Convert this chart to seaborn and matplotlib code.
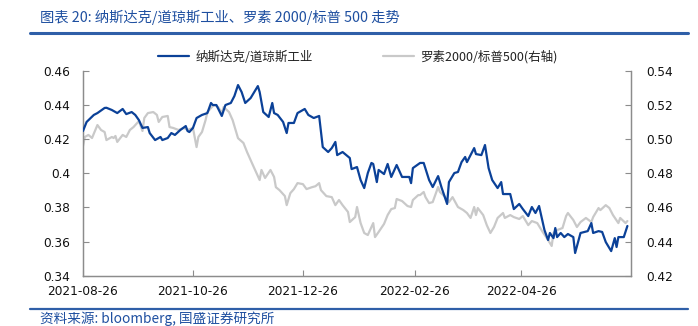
import matplotlib
matplotlib.use("Agg")
import matplotlib.pyplot as plt
from matplotlib.lines import Line2D
import pandas as pd
import seaborn as sns

# ---------------- data ----------------
nasdaq_dates = [
    "2021-08-26", "2021-08-28", "2021-09-01", "2021-09-03", "2021-09-07", "2021-09-08",
    "2021-09-11", "2021-09-14", "2021-09-17", "2021-09-19", "2021-09-22", "2021-09-24",
    "2021-09-26", "2021-09-28", "2021-10-01", "2021-10-02", "2021-10-05", "2021-10-08",
    "2021-10-09", "2021-10-12", "2021-10-14", "2021-10-16", "2021-10-19", "2021-10-22",
    "2021-10-23", "2021-10-24", "2021-10-26", "2021-10-28", "2021-10-31", "2021-11-03",
    "2021-11-05", "2021-11-06", "2021-11-08", "2021-11-11", "2021-11-13", "2021-11-16",
    "2021-11-18", "2021-11-20", "2021-11-22", "2021-11-24", "2021-11-27", "2021-12-01",
    "2021-12-02", "2021-12-04", "2021-12-07", "2021-12-09", "2021-12-10", "2021-12-12",
    "2021-12-15", "2021-12-17", "2021-12-18", "2021-12-21", "2021-12-23", "2021-12-27",
    "2021-12-29", "2022-01-01", "2022-01-04", "2022-01-06", "2022-01-09", "2022-01-11",
    "2022-01-13", "2022-01-14", "2022-01-17", "2022-01-21", "2022-01-22", "2022-01-25",
    "2022-01-27", "2022-01-29", "2022-01-31", "2022-02-02", "2022-02-03", "2022-02-05",
    "2022-02-06", "2022-02-09", "2022-02-11", "2022-02-13", "2022-02-16", "2022-02-19",
    "2022-02-23", "2022-02-24", "2022-02-25", "2022-03-01", "2022-03-03", "2022-03-06",
    "2022-03-08", "2022-03-11", "2022-03-13", "2022-03-16", "2022-03-17", "2022-03-20",
    "2022-03-22", "2022-03-24", "2022-03-26", "2022-03-27", "2022-03-31", "2022-04-01",
    "2022-04-04", "2022-04-06", "2022-04-08", "2022-04-10", "2022-04-13", "2022-04-15",
    "2022-04-16", "2022-04-20", "2022-04-22", "2022-04-25", "2022-04-27", "2022-04-30",
    "2022-05-02", "2022-05-04", "2022-05-06", "2022-05-09", "2022-05-11", "2022-05-12",
    "2022-05-14", "2022-05-15", "2022-05-16", "2022-05-18", "2022-05-20", "2022-05-22",
    "2022-05-25", "2022-05-26", "2022-05-29", "2022-06-02", "2022-06-04", "2022-06-05",
    "2022-06-08", "2022-06-10", "2022-06-12", "2022-06-15", "2022-06-17", "2022-06-18",
    "2022-06-19", "2022-06-22", "2022-06-24",
]
nasdaq_dow = [
    0.4247, 0.4300, 0.4341, 0.4352, 0.4382, 0.4383,
    0.4370, 0.4352, 0.4376, 0.4346, 0.4358, 0.4341,
    0.4311, 0.4265, 0.4270, 0.4235, 0.4194, 0.4212,
    0.4194, 0.4206, 0.4235, 0.4224, 0.4253, 0.4276,
    0.4247, 0.4241, 0.4265, 0.4323, 0.4341, 0.4352,
    0.4411, 0.4399, 0.4399, 0.4335, 0.4399, 0.4411,
    0.4452, 0.4516, 0.4475, 0.4411, 0.4440, 0.4510,
    0.4475, 0.4358, 0.4329, 0.4411, 0.4352, 0.4341,
    0.4300, 0.4235, 0.4294, 0.4294, 0.4352, 0.4376,
    0.4341, 0.4323, 0.4335, 0.4153, 0.4124, 0.4147,
    0.4183, 0.4106, 0.4124, 0.4089, 0.4024, 0.4036,
    0.3960, 0.3913, 0.4001, 0.4060, 0.4054, 0.3948,
    0.4019, 0.3995, 0.4054, 0.3978, 0.4048, 0.3978,
    0.3978, 0.3942, 0.4030, 0.4060, 0.4060, 0.3960,
    0.3919, 0.3983, 0.3913, 0.3820, 0.3948, 0.4001,
    0.4007, 0.4065, 0.4095, 0.4065, 0.4147, 0.4112,
    0.4106, 0.4165, 0.4030, 0.3960, 0.3913, 0.3948,
    0.3878, 0.3878, 0.3790, 0.3820, 0.3790, 0.3749,
    0.3802, 0.3767, 0.3808, 0.3667, 0.3609, 0.3650,
    0.3620, 0.3679, 0.3626, 0.3650, 0.3626, 0.3644,
    0.3626, 0.3533, 0.3650, 0.3661, 0.3708, 0.3650,
    0.3661, 0.3656, 0.3597, 0.3544, 0.3620, 0.3568,
    0.3626, 0.3626, 0.3691,
]

russell_dates = [
    "2021-08-26", "2021-08-27", "2021-08-29", "2021-08-31", "2021-09-03", "2021-09-05",
    "2021-09-07", "2021-09-08", "2021-09-11", "2021-09-12", "2021-09-13", "2021-09-14",
    "2021-09-17", "2021-09-19", "2021-09-21", "2021-09-23", "2021-09-26", "2021-09-28",
    "2021-09-29", "2021-10-01", "2021-10-04", "2021-10-06", "2021-10-07", "2021-10-09",
    "2021-10-12", "2021-10-13", "2021-10-15", "2021-10-18", "2021-10-21", "2021-10-23",
    "2021-10-26", "2021-10-28", "2021-10-29", "2021-10-31", "2021-11-02", "2021-11-03",
    "2021-11-06", "2021-11-07", "2021-11-09", "2021-11-11", "2021-11-12", "2021-11-15",
    "2021-11-17", "2021-11-20", "2021-11-23", "2021-11-25", "2021-11-28", "2021-12-02",
    "2021-12-03", "2021-12-05", "2021-12-08", "2021-12-10", "2021-12-11", "2021-12-13",
    "2021-12-16", "2021-12-17", "2021-12-19", "2021-12-21", "2021-12-23", "2021-12-26",
    "2021-12-28", "2021-12-31", "2022-01-02", "2022-01-04", "2022-01-05", "2022-01-08",
    "2022-01-11", "2022-01-13", "2022-01-15", "2022-01-17", "2022-01-20", "2022-01-21",
    "2022-01-24", "2022-01-25", "2022-01-27", "2022-01-29", "2022-01-31", "2022-02-03",
    "2022-02-04", "2022-02-06", "2022-02-09", "2022-02-11", "2022-02-13", "2022-02-15",
    "2022-02-16", "2022-02-19", "2022-02-22", "2022-02-24", "2022-02-25", "2022-02-28",
    "2022-03-01", "2022-03-03", "2022-03-04", "2022-03-06", "2022-03-08", "2022-03-11",
    "2022-03-12", "2022-03-15", "2022-03-17", "2022-03-19", "2022-03-22", "2022-03-25",
    "2022-03-27", "2022-03-29", "2022-03-31", "2022-04-01", "2022-04-02", "2022-04-05",
    "2022-04-07", "2022-04-09", "2022-04-11", "2022-04-13", "2022-04-16", "2022-04-17",
    "2022-04-20", "2022-04-22", "2022-04-25", "2022-04-27", "2022-04-30", "2022-05-02",
    "2022-05-05", "2022-05-08", "2022-05-11", "2022-05-13", "2022-05-14", "2022-05-16",
    "2022-05-19", "2022-05-21", "2022-05-22", "2022-05-25", "2022-05-27", "2022-05-29",
    "2022-06-01", "2022-06-04", "2022-06-05", "2022-06-08", "2022-06-09", "2022-06-12",
    "2022-06-14", "2022-06-16", "2022-06-19", "2022-06-20", "2022-06-23", "2022-06-24",
]
russell_sp500 = [
    0.4959, 0.5012, 0.5024, 0.5006, 0.5082, 0.5053,
    0.5041, 0.4994, 0.5012, 0.5006, 0.5018, 0.4983,
    0.5024, 0.5012, 0.5053, 0.5070, 0.5105, 0.5047,
    0.5123, 0.5152, 0.5158, 0.5141, 0.5100, 0.5129,
    0.5135, 0.5070, 0.5065, 0.5053, 0.5065, 0.5053,
    0.5065, 0.4953, 0.5012, 0.5041, 0.5111, 0.5158,
    0.5193, 0.5199, 0.5187, 0.5152, 0.5187, 0.5158,
    0.5111, 0.5005, 0.4977, 0.4924, 0.4853, 0.4760,
    0.4819, 0.4772, 0.4819, 0.4778, 0.4718, 0.4701,
    0.4666, 0.4613, 0.4683, 0.4707, 0.4742, 0.4736,
    0.4707, 0.4718, 0.4724, 0.4742, 0.4701, 0.4666,
    0.4660, 0.4613, 0.4643, 0.4613, 0.4573, 0.4514,
    0.4543, 0.4602, 0.4508, 0.4450, 0.4438, 0.4508,
    0.4426, 0.4456, 0.4503, 0.4555, 0.4590, 0.4596,
    0.4649, 0.4637, 0.4608, 0.4602, 0.4643, 0.4672,
    0.4672, 0.4690, 0.4660, 0.4625, 0.4631, 0.4719,
    0.4690, 0.4660, 0.4631, 0.4660, 0.4602, 0.4584,
    0.4567, 0.4538, 0.4602, 0.4555, 0.4596, 0.4555,
    0.4496, 0.4450, 0.4485, 0.4538, 0.4567, 0.4538,
    0.4555, 0.4543, 0.4532, 0.4549, 0.4496, 0.4520,
    0.4508, 0.4456, 0.4409, 0.4374, 0.4450, 0.4467,
    0.4479, 0.4549, 0.4567, 0.4526, 0.4485, 0.4514,
    0.4538, 0.4514, 0.4543, 0.4596, 0.4584, 0.4613,
    0.4596, 0.4555, 0.4508, 0.4538, 0.4508, 0.4520,
]

series_names = ["纳斯达克/道琼斯工业", "罗素2000/标普500(右轴)"]
x_tick_labels = ["2021-08-26", "2021-10-26", "2021-12-26", "2022-02-26", "2022-04-26"]
x_range = ["2021-08-26", "2022-06-26"]
left_ticks = [0.34, 0.36, 0.38, 0.40, 0.42, 0.44, 0.46]
left_tick_labels = ["0.34", "0.36", "0.38", "0.4", "0.42", "0.44", "0.46"]
right_ticks = [0.42, 0.44, 0.46, 0.48, 0.50, 0.52, 0.54]
right_tick_labels = ["0.42", "0.44", "0.46", "0.48", "0.50", "0.52", "0.54"]

title_text = "图表 20: 纳斯达克/道琼斯工业、罗素 2000/标普 500 走势"
source_text = "资料来源: bloomberg, 国盛证券研究所"

# ---------------- style ----------------
BLUE = "#0B4198"
GRAY = "#C9C9C9"
AXIS = "#8C8C8C"
HEAD = "#1E4FA0"
RULE = "#2F5FA8"

sns.set_theme(style="white")
plt.rcParams["font.family"] = ["Noto Sans CJK SC", "DejaVu Sans"]

W, H = 698, 326
fig = plt.figure(figsize=(W / 100, H / 100), dpi=100)
fig.patch.set_facecolor("white")

x0, x1, ytop, ybot = 83, 631, 70.7, 275.7
ax = fig.add_axes([x0 / W, 1 - ybot / H, (x1 - x0) / W, (ybot - ytop) / H])
ax2 = ax.twinx()

df1 = pd.DataFrame({"date": pd.to_datetime(nasdaq_dates), "value": nasdaq_dow})
df2 = pd.DataFrame({"date": pd.to_datetime(russell_dates), "value": russell_sp500})

LW = 1.6
sns.lineplot(data=df1, x="date", y="value", ax=ax, color=BLUE, linewidth=LW,
             legend=False, zorder=3)
sns.lineplot(data=df2, x="date", y="value", ax=ax2, color=GRAY, linewidth=LW,
             legend=False, zorder=2)

# blue above gray
ax.set_zorder(ax2.get_zorder() + 1)
ax.patch.set_visible(False)

ax.set_xlim(pd.to_datetime(x_range[0]), pd.to_datetime(x_range[1]))
ax.set_ylim(left_ticks[0], left_ticks[-1])
ax2.set_ylim(right_ticks[0], right_ticks[-1])

ax.set_xticks(pd.to_datetime(x_tick_labels))
ax.set_xticklabels(x_tick_labels)
ax.set_yticks(left_ticks)
ax.set_yticklabels(left_tick_labels)
ax2.set_yticks(right_ticks)
ax2.set_yticklabels(right_tick_labels)

for a in (ax, ax2):
    a.set_xlabel("")
    a.set_ylabel("")
    a.grid(False)
    a.spines["top"].set_visible(False)
    for s in ("left", "right", "bottom"):
        a.spines[s].set_color(AXIS)
        a.spines[s].set_linewidth(0.9)

ax.tick_params(axis="x", bottom=True, direction="in", length=4, width=0.8,
               color=AXIS, pad=7, labelsize=8.7, labelcolor="#111111")
ax.tick_params(axis="y", left=True, direction="in", length=4, width=0.8,
               color=AXIS, pad=9, labelsize=8.7, labelcolor="#111111")
ax2.tick_params(axis="y", right=True, direction="in", length=4, width=0.8,
                color=AXIS, pad=11, labelsize=8.7, labelcolor="#111111")
for lab in ax.get_xticklabels() + ax.get_yticklabels() + ax2.get_yticklabels():
    lab.set_fontfamily(["DejaVu Sans"])

# legend
handles = [Line2D([0], [0], color=BLUE, lw=LW), Line2D([0], [0], color=GRAY, lw=LW)]
fig.legend(handles, series_names, loc="center", bbox_to_anchor=(358 / W, 1 - 57 / H),
           ncol=2, frameon=False, handlelength=2.5, handletextpad=0.5,
           columnspacing=5.6, fontsize=9, labelcolor="#222222")

# header / footer
fig.text(40 / W, 1 - 17 / H, title_text, fontsize=10.3, style="italic", color=HEAD,
         ha="left", va="center")
fig.add_artist(Line2D([30 / W, 688 / W], [1 - 33 / H, 1 - 33 / H],
                      transform=fig.transFigure, color=RULE, lw=2.2))
fig.add_artist(Line2D([30 / W, 688 / W], [1 - 309 / H, 1 - 309 / H],
                      transform=fig.transFigure, color=RULE, lw=1.6))
fig.text(40 / W, 1 - 318.5 / H, source_text, fontsize=9.8, style="italic", color=HEAD,
         ha="left", va="center")

fig.savefig("out.png", dpi=100, facecolor="white")
